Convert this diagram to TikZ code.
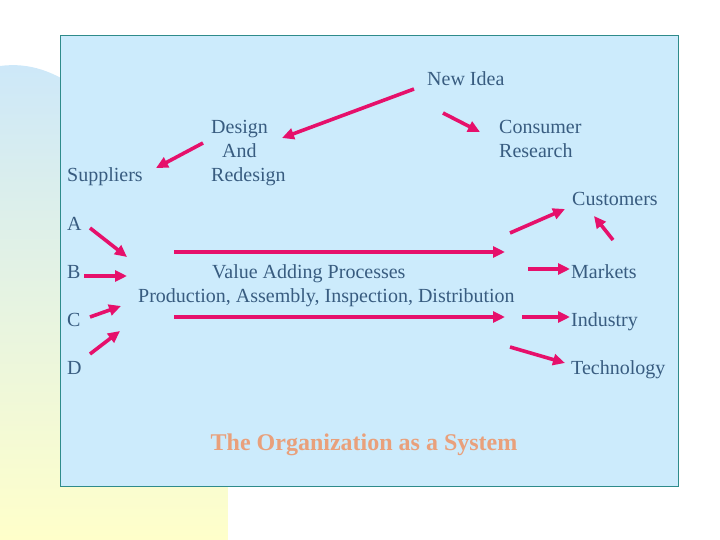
\documentclass[tikz,border=0pt]{standalone}
\usepackage{fontspec}
\setmainfont{Liberation Serif}
\usetikzlibrary{arrows.meta}
\definecolor{boxblue}{HTML}{CCEBFC}
\definecolor{boxline}{HTML}{2E8B8B}
\definecolor{bgblue}{HTML}{CDE8F9}
\definecolor{bgyellow}{HTML}{FFFFCA}
\definecolor{inkblue}{HTML}{385C80}
\definecolor{flow}{HTML}{E6106B}
\definecolor{titleorange}{HTML}{E9A07B}

\begin{document}
\begin{tikzpicture}[x=1pt, y=-1pt, >={Triangle[length=12pt,width=11pt]},
    every node/.style={inner sep=0pt, anchor=base west, text=inkblue,
      font=\fontsize{20}{24}\selectfont},
    flowarrow/.style={->, draw=flow, fill=flow, line width=3.6pt}]
\useasboundingbox (0,0) rectangle (720,540);
% backdrop and frame
\shade[top color=bgblue, bottom color=bgyellow] (0,540) -- (0,66)
  .. controls (30,62) and (55,72) .. (80,90) -- (228,90) -- (228,540) -- cycle;
\fill[boxblue, draw=boxline, line width=1pt] (60,36) rectangle (678,486);

\node (idea) at (427,86) {New Idea};
\node[align=left] (design) at (211,182) {Design\\\hspace{11pt}And\\Redesign};
\node[align=left] (consumer) at (499,158) {Consumer\\Research};
\node (suppliers) at (67,182) {Suppliers};
\node (customers) at (572,206) {Customers};
\node (a) at (67,230) {A};
\node (b) at (67,278) {B};
\node (c) at (67,326) {C};
\node (d) at (67,374) {D};
\node (vap) at (212,278) {Value Adding Processes};
\node (prod) at (138,302) {Production, Assembly, Inspection, Distribution};
\node (markets) at (571,278) {Markets};
\node (industry) at (571,326) {Industry};
\node (tech) at (571,374) {Technology};
\node[anchor=base, text=titleorange, font=\bfseries\fontsize{24}{28}\selectfont]
  (title) at (364,450) {The Organization as a System};

% arrow ends
\coordinate (idea-l) at (414,89);   \coordinate (design-r) at (282,138);
\coordinate (idea-r) at (443,113);  \coordinate (consumer-l) at (480,132);
\coordinate (design-l) at (203,143); \coordinate (suppliers-r) at (156,168);
\coordinate (a-r) at (90,228);  \coordinate (a-in) at (127,257);
\coordinate (b-r) at (84,276);  \coordinate (b-in) at (127,276);
\coordinate (c-r) at (90,317);  \coordinate (c-in) at (121,306);
\coordinate (d-r) at (90,354);  \coordinate (d-in) at (120,331);
\coordinate (vap-from) at (174,252); \coordinate (vap-to) at (505,252);
\coordinate (prod-from) at (174,317); \coordinate (prod-to) at (505,317);
\coordinate (out-up) at (510,233);  \coordinate (customers-l) at (565,209);
\coordinate (out-mid) at (528,269); \coordinate (markets-l) at (570,269);
\coordinate (out-low) at (522,317); \coordinate (industry-l) at (570,317);
\coordinate (out-down) at (510,347); \coordinate (tech-l) at (565,363);
\coordinate (markets-up) at (613,240); \coordinate (customers-s) at (594,216);

\draw[flowarrow] (idea-l) -- (design-r);
\draw[flowarrow] (idea-r) -- (consumer-l);
\draw[flowarrow] (design-l) -- (suppliers-r);
\draw[flowarrow] (a-r) -- (a-in);
\draw[flowarrow] (b-r) -- (b-in);
\draw[flowarrow] (c-r) -- (c-in);
\draw[flowarrow] (d-r) -- (d-in);
\draw[flowarrow] (vap-from) -- (vap-to);
\draw[flowarrow] (prod-from) -- (prod-to);
\draw[flowarrow] (out-up) -- (customers-l);
\draw[flowarrow] (out-mid) -- (markets-l);
\draw[flowarrow] (out-low) -- (industry-l);
\draw[flowarrow] (out-down) -- (tech-l);
\draw[flowarrow] (markets-up) -- (customers-s);
\end{tikzpicture}
\end{document}
